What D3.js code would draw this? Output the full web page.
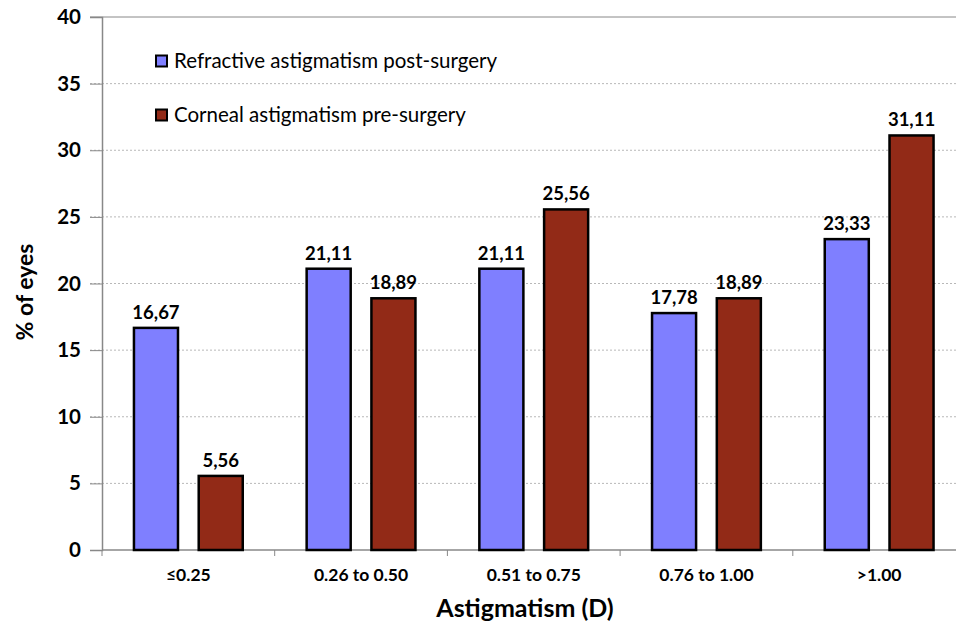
<!DOCTYPE html>
<html><head><meta charset="utf-8">
<script src="https://cdn.jsdelivr.net/npm/d3@7"></script>
<style>body{margin:0;background:#fff}svg{display:block;font-family:Lato,"Open Sans",sans-serif}</style>
</head><body><svg id="c" width="956" height="627"></svg>
<script>
const categories = ["≤0.25","0.26 to 0.50","0.51 to 0.75","0.76 to 1.00",">1.00"];
const seriesNames = ["Refractive astigmatism post-surgery","Corneal astigmatism pre-surgery"];
const refractivePost = [16.67,21.11,21.11,17.78,23.33];
const cornealPre = [5.56,18.89,25.56,18.89,31.11];
const yTicks = [0,5,10,15,20,25,30,35,40];
const colors = ["#7f7fff","#922a17"];

(function(){
const svg = d3.select("#c");
const pL = 102, pR = 965.5, pT = 17, pB = 550;
const y = d3.scaleLinear().domain([0,40]).range([pB, pT]);
const x0 = d3.scaleBand().domain(categories).range([pL, pR]).paddingInner(0.37).paddingOuter(0.185);
const x1 = d3.scaleBand().domain([0,1]).range([0, x0.bandwidth()]).paddingInner(0.32).paddingOuter(0);
const xTick = d3.scaleBand().domain(categories).range([pL, pR]);

// gridlines
svg.append("g").selectAll("line").data(yTicks.filter(d=>d>0 && d<40)).join("line")
  .attr("x1", pL - 12).attr("x2", 956).attr("y1", d=>y(d)).attr("y2", d=>y(d))
  .attr("stroke", "#b8b8b8").attr("stroke-width", 1).attr("stroke-dasharray", "2,2");
svg.append("line").attr("x1", pL-12).attr("x2", 956).attr("y1", y(40)).attr("y2", y(40)).attr("stroke","#888");

// y axis
const yAxis = d3.axisLeft(y).tickValues(yTicks).tickSize(12).tickPadding(9).tickFormat(d3.format("d"));
const gy = svg.append("g").attr("transform", `translate(${pL},0)`).call(yAxis);
gy.select(".domain").attr("stroke", "#888").attr("stroke-width", 1.5);
gy.selectAll(".tick line").attr("stroke", "#888");
gy.selectAll(".tick text").attr("font-size", 20.5).attr("font-weight", "bold").attr("fill", "#000").attr("font-family","Lato, sans-serif");

// x axis
const gx = svg.append("g").attr("transform", `translate(0,${pB})`);
gx.append("line").attr("x1", pL).attr("x2", 956).attr("y1", 0).attr("y2", 0).attr("stroke", "#888").attr("stroke-width", 1.5);
gx.selectAll("line.t").data(categories).join("line").attr("class","t")
  .attr("x1", d=>xTick(d)).attr("x2", d=>xTick(d)).attr("y1", 0).attr("y2", 6).attr("stroke", "#888");
gx.selectAll("text").data(categories).join("text")
  .attr("x", d=>xTick(d) + xTick.bandwidth()/2).attr("y", 31)
  .attr("text-anchor", "middle").attr("font-size", 17.5).attr("font-weight", "bold").text(d=>d);

// bars
const data = categories.map((c,i)=>({c, vals:[refractivePost[i], cornealPre[i]]}));
const fmt = v => v.toFixed(2).replace(".", ",");
const groups = svg.append("g").selectAll("g").data(data).join("g").attr("transform", d=>`translate(${x0(d.c)},0)`);
groups.selectAll("rect").data(d=>d.vals.map((v,k)=>({v,k}))).join("rect")
  .attr("x", d=>x1(d.k)).attr("width", x1.bandwidth())
  .attr("y", d=>y(d.v)).attr("height", d=>y(0)-y(d.v))
  .attr("fill", d=>colors[d.k]).attr("stroke", "#000").attr("stroke-width", 2.5);
groups.selectAll("text").data(d=>d.vals.map((v,k)=>({v,k}))).join("text")
  .attr("x", d=>x1(d.k)+x1.bandwidth()/2).attr("y", d=>y(d.v)-9)
  .attr("text-anchor", "middle").attr("font-size", 18.5).attr("font-weight", "bold").text(d=>fmt(d.v));

// legend
const lg = svg.append("g").selectAll("g").data(seriesNames).join("g")
  .attr("transform", (d,i)=>`translate(156,${61 + i*54})`);
lg.append("rect").attr("x", 0).attr("y", -5.5).attr("width", 11).attr("height", 11)
  .attr("fill", (d,i)=>colors[i]).attr("stroke", "#000").attr("stroke-width", 2);
lg.append("text").attr("x", 18).attr("y", 7).attr("font-size", 20.5).text(d=>d);

// titles
svg.append("text").attr("x", 525).attr("y", 617).attr("text-anchor", "middle")
  .attr("font-size", 25).attr("font-weight", "bold").text("Astigmatism (D)");
svg.append("text").attr("transform", "translate(33,292) rotate(-90)").attr("text-anchor", "middle")
  .attr("font-size", 23).attr("font-weight", "bold").text("% of eyes");
})();
</script></body></html>
